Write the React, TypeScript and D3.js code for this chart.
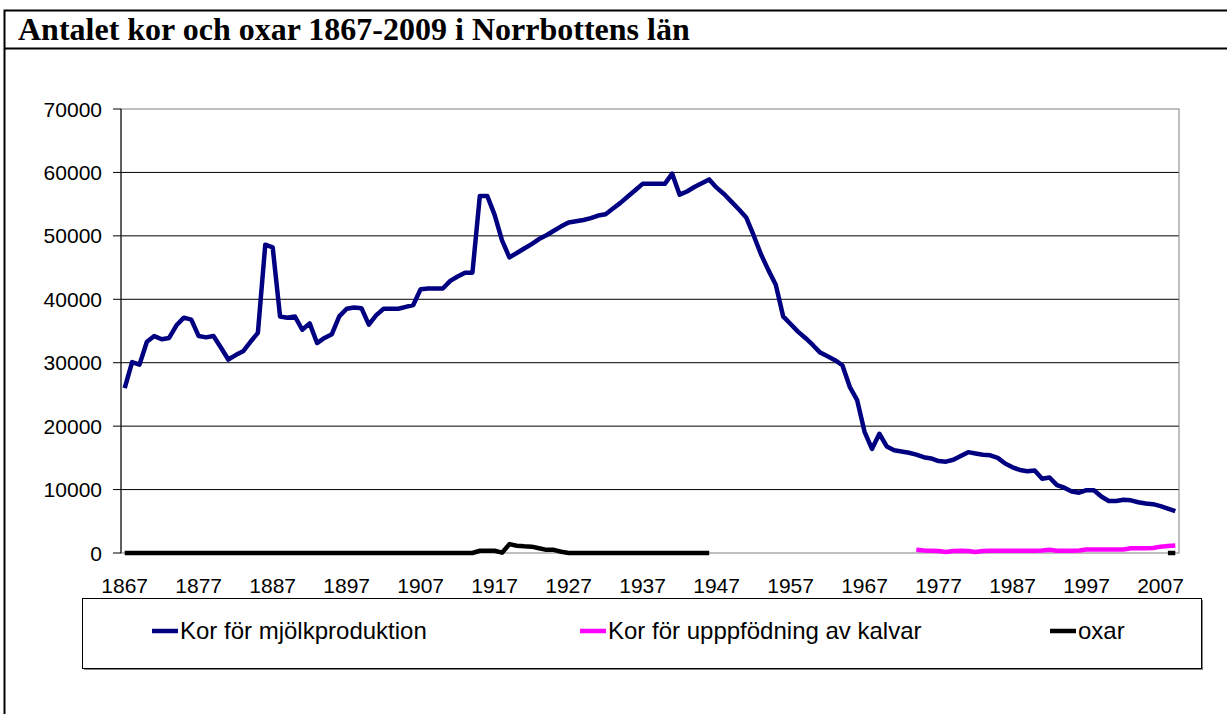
import React from 'react';
import * as d3 from 'd3';

const title = 'Antalet kor och oxar 1867-2009 i Norrbottens län';
const firstYear = 1867;
const lastYear = 2009;
const years = d3.range(firstYear, lastYear + 1);

// Kor för mjölkproduktion, 1867–2009
const milkCows = [
  26000, 30100, 29700, 33300, 34200, 33700, 33900, 35900, 37100, 36800,
  34200, 34000, 34200, 32400, 30500, 31200, 31800, 33300, 34700, 48600,
  48200, 37300, 37100, 37300, 35200, 36200, 33100, 33900, 34500, 37300,
  38500, 38700, 38600, 36000, 37500, 38500, 38500, 38500, 38800, 39100,
  41600, 41700, 41700, 41700, 42900, 43600, 44200, 44200, 56300, 56300,
  53300, 49300, 46600, 47300, 48000, 48700, 49500, 50100, 50800, 51500,
  52100, 52300, 52500, 52800, 53200, 53400, 54300, 55200, 56200, 57200,
  58200, 58200, 58200, 58200, 59800, 56500, 57000, 57700, 58300, 58900,
  57600, 56600, 55400, 54200, 52900, 50100, 47100, 44600, 42300, 37300,
  36100, 34900, 33900, 32800, 31600, 31000, 30400, 29600, 26200, 24100,
  19100, 16400, 18800, 16800, 16200, 16000, 15800, 15500, 15100, 14900,
  14500, 14400, 14700, 15300, 15900, 15700, 15500, 15400, 15000, 14100,
  13500, 13100, 12900, 13000, 11700, 11900, 10700, 10300, 9700, 9500,
  9900, 9900, 8900, 8200, 8200, 8400, 8300, 8000, 7800, 7700,
  7400, 7000, 6600,
];

// Kor för uppfödning av kalvar, 1974–2009
const calfCowsStart = 1974;
const calfCows = [
  500, 400, 350, 300, 150, 300, 350, 300, 150, 300,
  350, 350, 350, 350, 350, 350, 350, 400, 500, 350,
  350, 350, 400, 550, 550, 550, 550, 550, 550, 750,
  750, 750, 800, 1000, 1100, 1200,
];

// oxar, 1867–1946 and 2008–2009
const oxenEarlyStart = 1867;
const oxenEarly = [
  0, 0, 0, 0, 0, 0, 0, 0, 0, 0,
  0, 0, 0, 0, 0, 0, 0, 0, 0, 0,
  0, 0, 0, 0, 0, 0, 0, 0, 0, 0,
  0, 0, 0, 0, 0, 0, 0, 0, 0, 0,
  0, 0, 0, 0, 0, 0, 0, 0, 350, 350,
  350, 50, 1400, 1150, 1050, 1000, 750, 500, 500, 200,
  0, 0, 0, 0, 0, 0, 0, 0, 0, 0,
  0, 0, 0, 0, 0, 0, 0, 0, 0, 0,
];
const oxenLateStart = 2008;
const oxenLate = [0, 0];

const yTicks = [0, 10000, 20000, 30000, 40000, 50000, 60000, 70000];
const xTickYears = [1867, 1877, 1887, 1897, 1907, 1917, 1927, 1937, 1947, 1957, 1967, 1977, 1987, 1997, 2007];

const legendItems = [
  { label: 'Kor för mjölkproduktion', color: '#000080' },
  { label: 'Kor för upppfödning av kalvar', color: '#FF00FF' },
  { label: 'oxar', color: '#000000' },
];

type Pt = { year: number; value: number | null };

function seriesFrom(start: number, values: number[]): Pt[] {
  return values.map((v, i) => ({ year: start + i, value: v }));
}

export default function App() {
  const W = 1227;
  const H = 714;
  const left = 121;
  const right = 1179;
  const top = 109;
  const bottom = 553;

  const x = d3.scaleLinear().domain([firstYear - 0.5, lastYear + 0.5]).range([left, right]);
  const y = d3.scaleLinear().domain([0, 70000]).range([bottom, top]);

  const line = d3
    .line<Pt>()
    .defined((d) => d.value !== null)
    .x((d) => x(d.year))
    .y((d) => y(d.value as number));

  const milk = years.map((yr, i) => ({ year: yr, value: milkCows[i] }));
  const calves = seriesFrom(calfCowsStart, calfCows);
  const oxen1 = seriesFrom(oxenEarlyStart, oxenEarly);
  const oxen2 = seriesFrom(oxenLateStart, oxenLate);

  const fontSans = "'Liberation Sans', Arial, sans-serif";
  const legendX = [152, 580, 1050];
  const legendY = 631;
  const lw = 4.5;

  return (
    <svg
      width={W}
      height={H}
      style={{ position: 'absolute', left: 0, top: 0, background: '#fff' }}
    >
      <rect x={0} y={0} width={W} height={H} fill="#fff" />
      {/* outer frame */}
      <path d={`M4.5,${H} V10.5 H${W}`} fill="none" stroke="#000" strokeWidth={2} />
      <line x1={4.5} x2={W} y1={48.5} y2={48.5} stroke="#000" strokeWidth={2} />
      <text
        x={18}
        y={40}
        fontFamily="'Liberation Serif', 'Times New Roman', serif"
        fontWeight="bold"
        fontSize={32}
        fill="#000"
      >
        {title}
      </text>

      {/* gridlines */}
      {yTicks
        .filter((t) => t > 0 && t < 70000)
        .map((t) => (
          <line key={t} x1={left} x2={right} y1={y(t)} y2={y(t)} stroke="#000" strokeWidth={1} />
        ))}
      {/* plot border */}
      <rect
        x={left}
        y={top}
        width={right - left}
        height={bottom - top}
        fill="none"
        stroke="#808080"
        strokeWidth={1}
      />
      {/* y axis */}
      <line x1={left} x2={left} y1={top} y2={bottom} stroke="#000" strokeWidth={1} />
      {yTicks.map((t) => (
        <g key={t}>
          <line x1={left - 8} x2={left} y1={y(t)} y2={y(t)} stroke="#000" strokeWidth={1} />
          <text
            x={102}
            y={y(t) + 7.5}
            textAnchor="end"
            fontFamily={fontSans}
            fontSize={21}
            fill="#000"
          >
            {t}
          </text>
        </g>
      ))}
      {xTickYears.map((yr) => (
        <text
          key={yr}
          x={x(yr)}
          y={593}
          textAnchor="middle"
          fontFamily={fontSans}
          fontSize={21}
          fill="#000"
        >
          {yr}
        </text>
      ))}

      {/* series */}
      <path d={line(milk) || ''} fill="none" stroke="#000080" strokeWidth={lw} strokeLinejoin="round" />
      <path d={line(calves) || ''} fill="none" stroke="#FF00FF" strokeWidth={lw} strokeLinejoin="round" />
      <path d={line(oxen1) || ''} fill="none" stroke="#000" strokeWidth={lw} strokeLinejoin="round" />
      <path d={line(oxen2) || ''} fill="none" stroke="#000" strokeWidth={lw} strokeLinejoin="round" />

      {/* legend */}
      <line x1={84} x2={1203} y1={669.5} y2={669.5} stroke="#888" strokeWidth={1} />
      <line x1={1202.5} x2={1202.5} y1={600} y2={670} stroke="#888" strokeWidth={1} />
      <rect x={82.5} y={598.5} width={1119} height={70} fill="#fff" stroke="#000" strokeWidth={1} />
      {legendItems.map((it, i) => (
        <g key={it.label}>
          <line
            x1={legendX[i]}
            x2={legendX[i] + 26}
            y1={legendY}
            y2={legendY}
            stroke={it.color}
            strokeWidth={lw}
          />
          <text
            x={legendX[i] + 28}
            y={legendY + 8}
            fontFamily={fontSans}
            fontSize={24}
            fill="#000"
          >
            {it.label}
          </text>
        </g>
      ))}
    </svg>
  );
}
